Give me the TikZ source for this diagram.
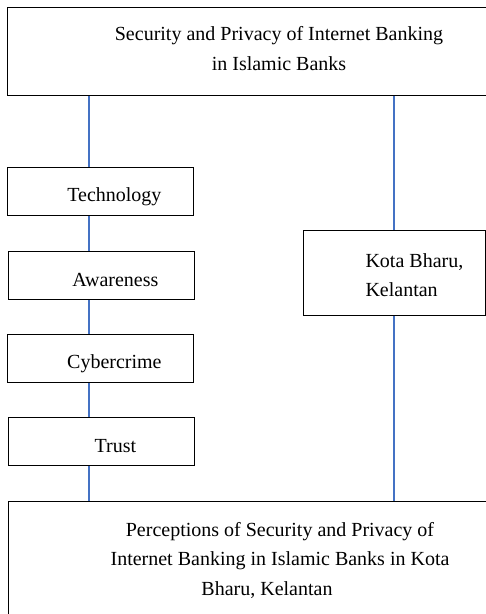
\documentclass[tikz,border=0pt]{standalone}
\usepackage{fontspec}
\setmainfont{Liberation Serif}
\usetikzlibrary{calc}
\definecolor{linkblue}{RGB}{68,114,196}

\begin{document}
\begin{tikzpicture}[x=1pt, y=-1pt,
  box/.style={draw, line width=0.8pt, inner sep=0pt, anchor=north west},
  link/.style={draw=linkblue, line width=1.3pt},
  every node/.style={font=\fontsize{20}{30}\selectfont}]
\useasboundingbox (0,0) rectangle (486,614);
\clip (0,0) rectangle (486,614);

\coordinate (lx) at (89, 0);
\coordinate (rx) at (394, 0);

\node[box, minimum width=520pt, minimum height=88pt] (S) at (7, 7) {};
\node[box, minimum width=186pt, minimum height=48pt] (F1) at (7, 167) {};
\node[box, minimum width=186pt, minimum height=48pt] (F2) at (8, 251) {};
\node[box, minimum width=186pt, minimum height=48pt] (F3) at (7, 334) {};
\node[box, minimum width=186pt, minimum height=48pt] (F4) at (8, 417) {};
\node[box, minimum width=182pt, minimum height=85pt] (K) at (303, 230) {};
\node[box, minimum width=540pt, minimum height=150pt] (P) at (8, 501) {};

\node[align=center] (s) at (279, 49) {Security and Privacy of Internet Banking\\in Islamic Banks};
\node (f1) at ($(F1.center)+(14, 5)$) {Technology};
\node (f2) at ($(F2.center)+(14, 5)$) {Awareness};
\node (f3) at ($(F3.center)+(14, 5)$) {Cybercrime};
\node (f4) at ($(F4.center)+(14, 5)$) {Trust};
\node[align=left, anchor=west, font=\fontsize{20}{29}\selectfont] (k) at (362, 275) {Kota Bharu,\\Kelantan};
\node[align=center, font=\fontsize{20}{29.5}\selectfont] (p) at (280, 560) {Perceptions of Security and Privacy of\\Internet Banking in Islamic Banks in Kota\\Bharu, Kelantan\hspace*{26pt}};

\draw[link] (S.south -| lx) -- (F1.north -| lx);
\draw[link] (F1.south -| lx) -- (F2.north -| lx);
\draw[link] (F2.south -| lx) -- (F3.north -| lx);
\draw[link] (F3.south -| lx) -- (F4.north -| lx);
\draw[link] (F4.south -| lx) -- (P.north -| lx);

\draw[link] (S.south -| rx) -- (K.north -| rx);
\draw[link] (K.south -| rx) -- (P.north -| rx);
\end{tikzpicture}
\end{document}
